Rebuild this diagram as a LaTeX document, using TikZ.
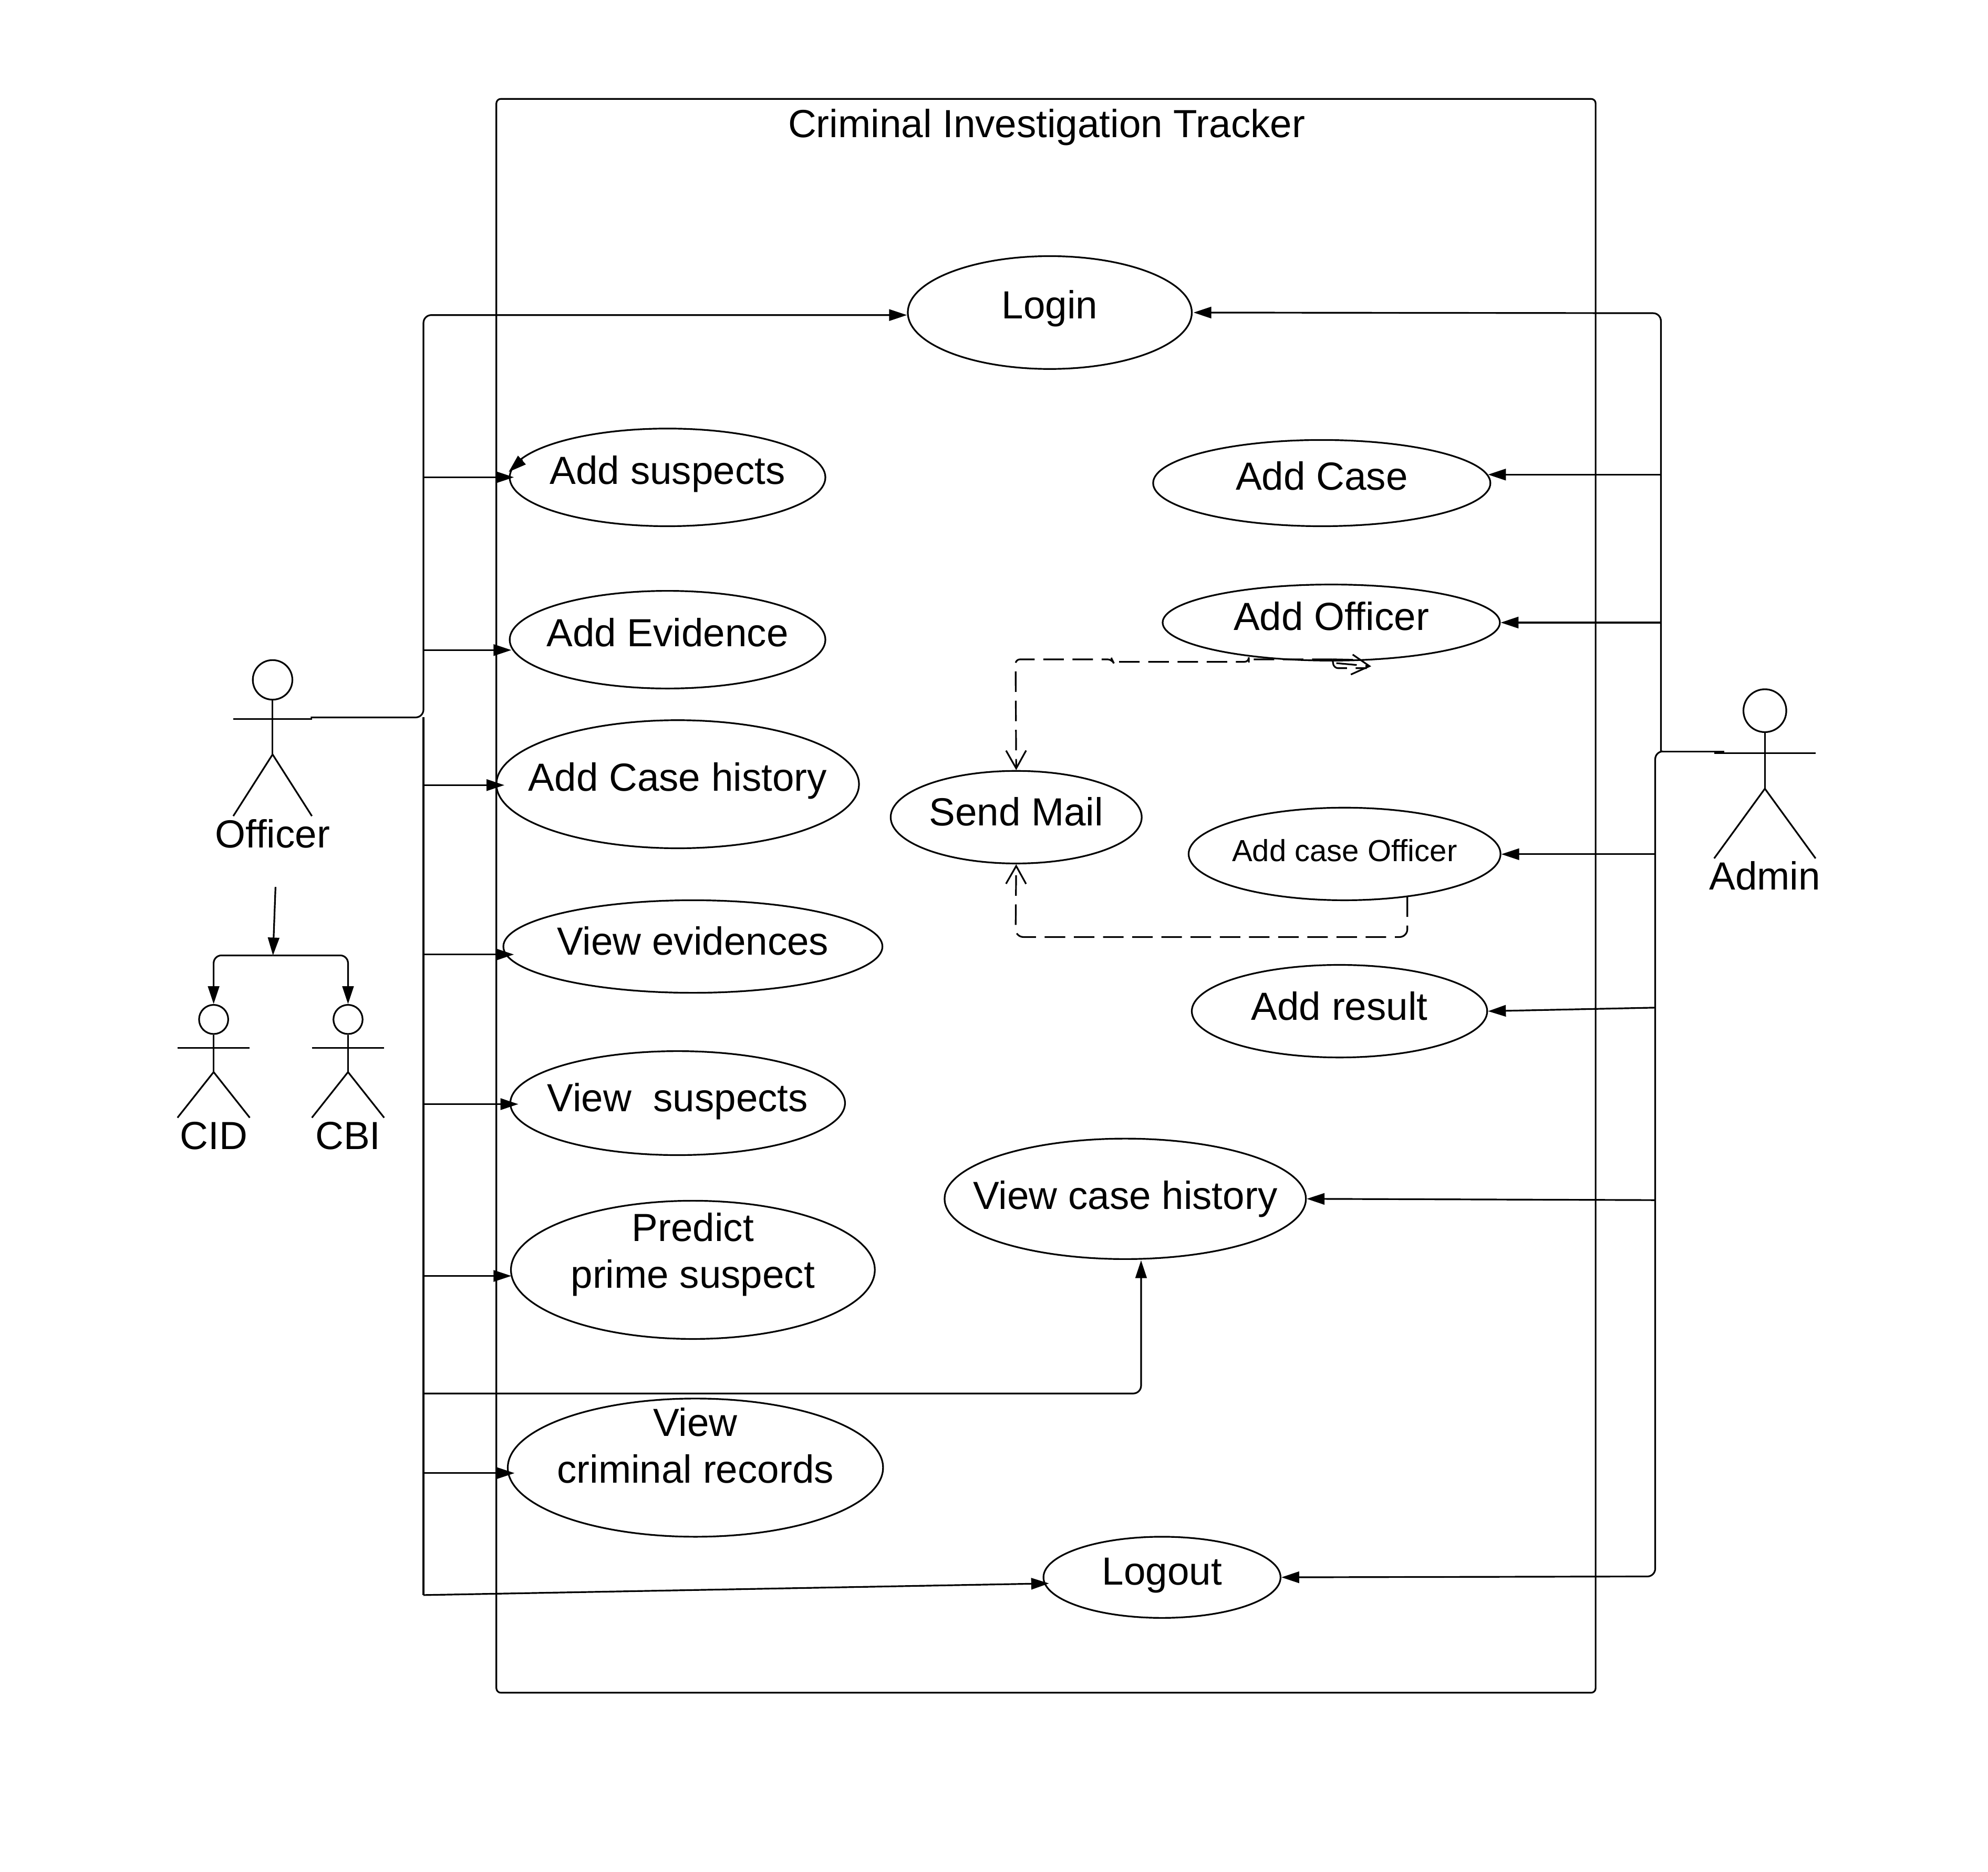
\documentclass[tikz,border=0pt]{standalone}
\usepackage{fontspec}
\setmainfont{Liberation Sans}
\usetikzlibrary{arrows.meta, shapes.geometric}
\newdimen\ux
\ux=0.02cm
% text in a use case: #1 = baseline below the centre
\newcommand{\uclab}[2]{\raisebox{-#1\ux}[0pt][0pt]{\makebox[0pt]{\begin{tabular}[b]{@{}c@{}}#2\end{tabular}}}}
\begin{document}
\begin{tikzpicture}[x=0.02cm, y=-0.02cm, line width=0.75pt,
    every node/.style={font=\fontsize{17.6}{21}\selectfont},
    uc/.style={ellipse, draw, inner sep=0pt},
    headc/.style={circle, draw, inner sep=0pt},
    arr/.style={-{Triangle[length=8pt, width=5.1pt]}},
    dep/.style={dash pattern=on 9.2pt off 3.9pt},
    deptip/.style={dep, -{Straight Barb[length=8pt, width=9pt]}}]
\useasboundingbox (0,0) rectangle (1568,1476.4);
\node[draw, rounded corners=2pt, inner sep=0pt, minimum width=867\ux, minimum height=1257\ux] (sys) at (825,706.5) {};
\node[anchor=base] (title) at (825.5,108.5) {Criminal Investigation Tracker};
\foreach \nm/\cx/\cy/\w/\h/\dy/\lab in {login/828/246.5/224/89/5/Login,
    addsus/526.5/376.5/249/77/5.5/Add suspects, addev/526.5/504.5/249/77/5.5/Add Evidence,
    addhist/534.5/618.5/286/101/5.5/Add Case history, viewev/546.5/746.5/299/73/6.5/View evidences,
    viewsus/534.5/870/264/82/6.5/View\ \ suspects, predict/546.5/1001.5/287/109/14.5/{Predict\\prime suspect},
    viewcrim/548.5/1157.5/296/109/12.2/{View\\criminal records}, logout/916.5/1244/187/64/6/Logout,
    addcase/1042.5/381/266/68/5.5/Add Case, addoff/1050/491/266/60/6/Add Officer,
    mail/801.5/644.5/198/73/6.5/Send Mail,
    addcoff/1060.5/673.5/246/73/6/{\fontsize{13.7}{16}\selectfont Add case Officer},
    addres/1056.5/797.5/233/73/7/Add result, viewhist/887.5/945.5/285/95/8/View case history} {
    \node[uc, minimum width=\w*\ux, minimum height=\h*\ux] (\nm) at (\cx,\cy) {\uclab{\dy}{\lab}};
}
% actors
\foreach \nm/\cx/\hy/\r/\hw/\ay/\hip/\ft/\ly/\lab in {off/215/536.2/15.6/31/567/595/643.6/668.6/Officer,
    adm/1392/560.5/16.9/40/594/622/677/701.6/Admin,
    cid/168.5/804/11.5/28.5/826.5/845.5/881.5/906.6/CID, cbi/274.5/804/11.5/28.5/826.5/845.5/881.5/906.6/CBI} {
    \node[headc, minimum size=2*\r*\ux] (\nm) at (\cx,\hy) {};
    \coordinate (\nm L) at (\cx-\hw,\ay);
    \coordinate (\nm R) at (\cx+\hw,\ay);
    \coordinate (\nm H) at (\cx,\hip);
    \coordinate (\nm A) at (\cx-\hw,\ft);
    \coordinate (\nm B) at (\cx+\hw,\ft);
    \draw (\nm.south) -- (\nm H);
    \draw (\nm L) -- (\nm R);
    \draw (\nm A) -- (\nm H) -- (\nm B);
    \node[anchor=base] (\nm T) at (\cx,\ly) {\lab};
}
% officer and his kinds
\coordinate (genT) at (217.3,699.5);
\coordinate (genB) at (215.3,753.5);
\draw[arr] (genT) -- (genB);
\draw[arr, rounded corners=3.5pt] (genB) -- (genB -| cid) -- (cid.north);
\draw[arr, rounded corners=3.5pt] (genB) -- (genB -| cbi) -- (cbi.north);
% left bus
\coordinate (offO) at (245,565.8);
\coordinate (busO) at (334,565.8);
\coordinate (busT) at (334,248.5);
\coordinate (busB) at (334,1258);
\draw[arr, rounded corners=3.5pt] (offO) -- (busO) -- (busT) -- (login.west |- busT);
\draw (busO) -- (busB);
\foreach \nm/\by/\ex in {addsus/376.4/4, addev/512.7/2, addhist/619.2/7, viewev/752.8/9, viewsus/870.8/7, predict/1006.3/1, viewcrim/1161.8/6} {
    \coordinate (bus\nm) at (334,\by);
    \draw[arr, shorten >=-\ex*\ux] (bus\nm) -- (\nm.west |- bus\nm);
}
\coordinate (susA) at (412,362.5);
\coordinate (susB) at (401.2,372.2);
\draw[arr] (susA) -- (susB);
\coordinate (busH) at (334,1099);
\coordinate (histC) at (900,1099);
\coordinate (histB) at (900,994);
\draw[arr, rounded corners=3.5pt] (busH) -- (histC) -- (histB);
\draw[arr, shorten >=-4*\ux] (busB) -- (logout.183);
% right bus
\coordinate (admO) at (1360,592.6);
\coordinate (busP) at (1310,592.6);
\coordinate (busQ) at (1305.5,592.6);
\coordinate (busU) at (1310,247);
\coordinate (busV) at (1305.5,1243.3);
\draw (admO) -- (busP);
\draw[arr, shorten >=0.4pt, rounded corners=3.5pt] (busP) -- (busU) -- (login.east);
\draw[arr, rounded corners=3.5pt] (busP) -- (busQ) -- (busV) -- (logout.east);
\foreach \nm/\bx/\by/\ex in {addcase/1310/374.3/2.5, addoff/1310/491/0, addcoff/1305.5/673.7/0} {
    \coordinate (bus\nm) at (\bx,\by);
    \draw[arr, shorten >=-\ex*\ux] (bus\nm) -- (\nm.east |- bus\nm);
}
\coordinate (busaddres) at (1305.5,794.7);
\coordinate (busviewhist) at (1305.5,946.5);
\draw[arr] (busaddres) -- (addres.east);
\draw[arr] (busviewhist) -- (viewhist.east);
% dashed ones
\coordinate (offA) at (1051,520);
\coordinate (offB) at (1081.5,525.5);
\coordinate (offC) at (1054,523);
\coordinate (coffA) at (1110,707);
\draw[deptip, rounded corners=2pt] (offA) -- (985,520) -- (985,522) -- (878,522) -- (877,520) -- (801,520) -- (mail.north);
\draw[dep, rounded corners=2pt] (offA) -- (1052,527) -- (1078,527);
\draw[dep] (offA) -- (1074,520.5);
\draw[deptip] (offC) -- (offB);
\draw[deptip, rounded corners=3.5pt] (coffA) -- (1110,739) -- (801,739) -- (mail.south);
\end{tikzpicture}
\end{document}
